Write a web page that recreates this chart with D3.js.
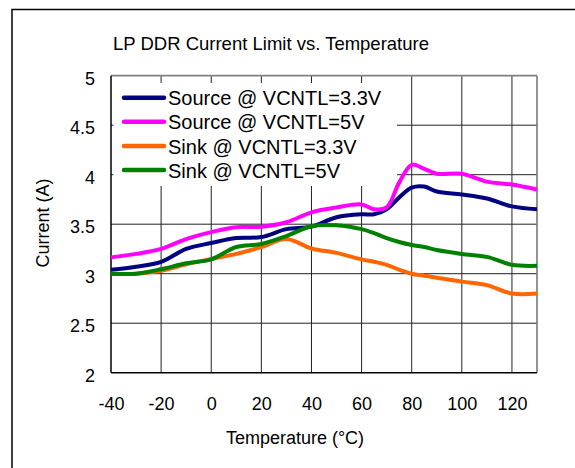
<!DOCTYPE html>
<html>
<head>
<meta charset="utf-8">
<script src="https://cdn.jsdelivr.net/npm/d3@7"></script>
<style>
  html, body { margin: 0; padding: 0; background: #fff; }
  svg { display: block; }
  text { font-family: "Liberation Sans", Arial, sans-serif; fill: #000; }
</style>
</head>
<body>
<svg id="chart" width="575" height="468"></svg>
<script>
const title = "LP DDR Current Limit vs. Temperature";
const xTitle = "Temperature (°C)";
const yTitle = "Current (A)";
const xTicks = [-40, -20, 0, 20, 40, 60, 80, 100, 120];
const yTicks = [2, 2.5, 3, 3.5, 4, 4.5, 5];
const seriesNames = ["Source @ VCNTL=3.3V", "Source @ VCNTL=5V", "Sink @ VCNTL=3.3V", "Sink @ VCNTL=5V"];
const seriesColors = ["#000080", "#ff00ff", "#ff6600", "#008000"];
const temps = [-40, -30, -20, -10, 0, 10, 20, 30, 40, 50, 60, 65, 70, 75, 80, 85, 90, 100, 110, 120, 130];
const sourceV33 = [3.04, 3.07, 3.12, 3.25, 3.31, 3.36, 3.37, 3.45, 3.475, 3.57, 3.60, 3.60, 3.65, 3.77, 3.87, 3.88, 3.83, 3.80, 3.76, 3.68, 3.65];
const sourceV5  = [3.165, 3.20, 3.25, 3.35, 3.42, 3.47, 3.475, 3.52, 3.62, 3.67, 3.70, 3.65, 3.67, 3.92, 4.10, 4.06, 4.01, 4.01, 3.93, 3.90, 3.85];
const sinkV33   = [3.0, 3.0, 3.03, 3.095, 3.15, 3.20, 3.27, 3.35, 3.255, 3.21, 3.145, 3.12, 3.09, 3.04, 3.00, 2.98, 2.96, 2.92, 2.885, 2.80, 2.80];
const sinkV5    = [3.0, 3.0, 3.045, 3.105, 3.145, 3.27, 3.30, 3.38, 3.48, 3.49, 3.45, 3.41, 3.36, 3.32, 3.29, 3.27, 3.24, 3.20, 3.17, 3.09, 3.08];
const seriesValues = [sourceV33, sourceV5, sinkV33, sinkV5];

(function () {
const svg = d3.select("#chart");
const pLeft = 111, pRight = 537, pTop = 75.7, pBottom = 372.7;
const x = d3.scaleLinear().domain([-40, 130]).range([pLeft, pRight]);
const y = d3.scaleLinear().domain([2, 5]).range([pBottom, pTop]);

// outer frame
svg.append("rect").attr("x", 12).attr("y", 9.5).attr("width", 700).attr("height", 600)
  .attr("fill", "#fff").attr("stroke", "#000").attr("stroke-width", 1.5);

// title
svg.append("text").attr("x", 271).attr("y", 50).attr("text-anchor", "middle")
  .attr("font-size", "18.5px").text(title);

// gridlines
const grid = svg.append("g");
grid.selectAll("line.h").data(yTicks.filter(d => d > 2 && d < 5)).join("line")
  .attr("x1", pLeft).attr("x2", pRight).attr("y1", d => y(d)).attr("y2", d => y(d))
  .attr("stroke", "#222").attr("stroke-width", 1);
grid.selectAll("line.v").data(xTicks.filter(d => d > -40)).join("line")
  .attr("y1", pTop).attr("y2", pBottom).attr("x1", d => x(d)).attr("x2", d => x(d))
  .attr("stroke", "#222").attr("stroke-width", 1);

// plot frame: top/right gray
svg.append("line").attr("x1", pLeft).attr("x2", pRight).attr("y1", pTop).attr("y2", pTop)
  .attr("stroke", "#808080").attr("stroke-width", 1.7);
svg.append("line").attr("x1", pRight).attr("x2", pRight).attr("y1", pTop).attr("y2", pBottom)
  .attr("stroke", "#808080").attr("stroke-width", 1.7);

// legend box (white, covering gridlines)
svg.append("rect").attr("x", 113.5).attr("y", 83).attr("width", 283.5).attr("height", 103)
  .attr("fill", "#fff");

// axes lines
svg.append("line").attr("x1", pLeft).attr("x2", pLeft).attr("y1", pTop).attr("y2", pBottom)
  .attr("stroke", "#000").attr("stroke-width", 1.5);
svg.append("line").attr("x1", pLeft).attr("x2", pRight).attr("y1", pBottom).attr("y2", pBottom)
  .attr("stroke", "#000").attr("stroke-width", 1.5);

// tick labels via d3 axes
const xAxis = d3.axisBottom(x).tickValues(xTicks).tickSize(0).tickPadding(0).tickFormat(d => String(d));
const gx = svg.append("g").attr("transform", `translate(0,${pBottom})`).call(xAxis);
gx.select(".domain").remove();
gx.selectAll("text").attr("font-size", "18px").attr("font-family", "Liberation Sans, Arial, sans-serif")
  .attr("fill", "#000").attr("y", 37).attr("dy", 0);

const yAxis = d3.axisLeft(y).tickValues(yTicks).tickSize(0).tickPadding(0).tickFormat(d => String(d));
const gy = svg.append("g").attr("transform", `translate(${pLeft},0)`).call(yAxis);
gy.select(".domain").remove();
gy.selectAll("text").attr("font-size", "18px").attr("font-family", "Liberation Sans, Arial, sans-serif")
  .attr("fill", "#000").attr("x", -16).attr("dy", 8.5);

// axis titles
svg.append("text").attr("x", 295).attr("y", 444).attr("text-anchor", "middle")
  .attr("font-size", "18px").text(xTitle);
svg.append("text").attr("transform", "translate(49,223) rotate(-90)").attr("text-anchor", "middle")
  .attr("font-size", "18px").text(yTitle);

// series lines
const line = d3.line().x(d => x(d[0])).y(d => y(d[1])).curve(d3.curveCatmullRom.alpha(0.5));
seriesValues.forEach((vals, i) => {
  svg.append("path").datum(temps.map((t, j) => [t, vals[j]]))
    .attr("d", line).attr("fill", "none").attr("stroke", seriesColors[i])
    .attr("stroke-width", 4).attr("stroke-linejoin", "round");
});

// legend
const legendRows = [97.7, 121.7, 146, 170];
const lg = svg.append("g");
seriesNames.forEach((name, i) => {
  lg.append("line").attr("x1", 124).attr("x2", 164).attr("y1", legendRows[i]).attr("y2", legendRows[i])
    .attr("stroke", seriesColors[i]).attr("stroke-width", 4.5).attr("stroke-linecap", "round");
  lg.append("text").attr("x", 168).attr("y", legendRows[i] + 7.5).attr("font-size", "20px").text(name);
});
})();
</script>
</body>
</html>
